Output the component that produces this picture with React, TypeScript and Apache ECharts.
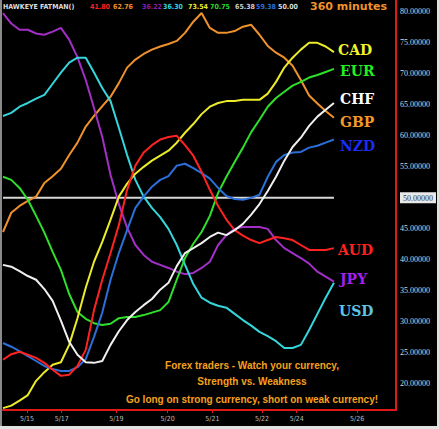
import React, { useEffect, useRef } from "react";
import * as echarts from "echarts";

// Time index (6-hour bars) and date tick labels
const xTickPos = [2.9, 7.1, 13.7, 19.9, 25.3, 31.3, 35.5, 42.8];
const xTickLabels = ["5/15", "5/17", "5/19", "5/20", "5/21", "5/22", "5/24", "5/26"];
const yTickVals = [20, 25, 30, 35, 40, 45, 50, 55, 60, 65, 70, 75, 80];
const levelValue = 50;

const AUD = [23.9, 24.8, 25.2, 24.7, 24.2, 23.4, 22.3, 21.3, 21.5, 22.9, 25.5, 31.9, 36.8, 41.1, 45.6, 51.3, 55.2, 57.3, 58.5, 59.4, 59.8, 60.0, 58.5, 56.8, 54.2, 51.3, 48.7, 46.5, 44.8, 43.9, 43.2, 42.7, 43.2, 43.7, 43.5, 43.2, 42.4, 41.6, 41.6, 41.6, 41.9];
const CAD = [16.1, 16.5, 17.3, 18.2, 20.5, 21.9, 23.1, 23.5, 26.3, 30.6, 35.5, 39.7, 42.9, 46.5, 50.2, 52.3, 53.9, 55.0, 56.0, 56.8, 57.6, 58.9, 60.5, 61.9, 63.5, 64.7, 65.3, 65.6, 65.6, 65.8, 65.8, 65.8, 66.8, 68.7, 71.0, 72.6, 73.9, 75.0, 75.0, 74.4, 73.5];
const CHF = [39.2, 38.9, 38.2, 37.4, 36.8, 35.3, 33.4, 30.2, 26.8, 24.7, 23.5, 23.4, 23.7, 26.3, 28.5, 30.3, 31.6, 32.7, 33.7, 35.2, 36.3, 39.0, 41.1, 41.9, 42.7, 43.7, 44.4, 44.0, 44.8, 45.8, 47.3, 49.0, 51.1, 53.4, 56.0, 58.2, 59.7, 61.6, 63.1, 64.2, 65.3];
const EUR = [53.4, 52.9, 51.6, 49.7, 47.1, 44.4, 41.3, 38.4, 34.5, 31.6, 30.5, 29.8, 29.5, 29.7, 30.6, 30.8, 30.8, 31.1, 31.5, 31.9, 33.2, 36.8, 40.3, 42.6, 44.5, 47.1, 50.8, 53.4, 55.8, 58.1, 60.6, 62.6, 64.7, 66.1, 67.1, 68.1, 68.7, 69.4, 69.8, 70.3, 70.8];
const GBP = [44.5, 47.6, 48.7, 49.5, 50.2, 52.4, 53.5, 54.7, 56.9, 58.9, 61.5, 63.2, 64.8, 66.3, 68.5, 71.0, 72.3, 73.2, 73.9, 74.4, 74.8, 75.3, 76.6, 78.4, 79.8, 77.4, 76.6, 76.6, 76.9, 77.6, 77.9, 76.3, 74.5, 73.4, 72.6, 71.3, 69.0, 66.5, 65.2, 64.0, 62.9];
const JPY = [79.8, 78.1, 77.1, 77.1, 76.5, 76.3, 76.8, 77.4, 75.5, 72.7, 69.0, 64.5, 59.8, 53.7, 49.0, 45.2, 42.4, 40.8, 39.7, 39.2, 38.7, 38.1, 37.7, 37.9, 38.7, 39.7, 42.4, 44.0, 45.0, 45.3, 45.3, 45.3, 45.0, 43.2, 41.9, 41.1, 40.3, 39.4, 38.1, 37.3, 36.5];
const NZD = [26.6, 26.0, 25.3, 24.5, 23.7, 22.9, 22.4, 22.1, 22.1, 22.7, 24.0, 27.6, 31.5, 36.8, 41.1, 44.8, 48.4, 50.2, 51.8, 52.9, 53.5, 55.2, 55.5, 54.8, 54.0, 53.1, 51.6, 50.3, 49.8, 49.7, 50.0, 50.5, 53.4, 55.8, 56.9, 57.3, 57.4, 58.1, 58.4, 58.9, 59.4];
const USD = [63.2, 63.7, 64.7, 65.3, 66.0, 66.6, 68.4, 70.2, 71.8, 72.6, 72.6, 70.2, 67.7, 65.6, 61.3, 56.9, 52.9, 50.2, 48.4, 46.9, 45.0, 42.4, 39.2, 36.1, 33.9, 33.1, 32.6, 32.3, 31.3, 30.3, 29.4, 28.4, 27.7, 26.9, 25.8, 25.8, 26.3, 28.7, 31.3, 33.9, 36.3];

const headerTitle = "HAWKEYE FATMAN()";
const headerValues = ["41.80", "62.76", "36.22", "36.30", "73.54", "70.75", "65.38", "59.38", "50.00"];
const headerPeriod = "360 minutes";
const messageLines = [
  "Forex traders - Watch your currency,",
  "Strength vs. Weakness",
  "Go long on strong currency, short on weak currency!",
];

const seriesDefs = [
  { name: "GBP", data: GBP, color: "#f0922c" },
  { name: "JPY", data: JPY, color: "#a22fc6" },
  { name: "USD", data: USD, color: "#34d6dc" },
  { name: "EUR", data: EUR, color: "#2fe02a" },
  { name: "CAD", data: CAD, color: "#ecec2a" },
  { name: "NZD", data: NZD, color: "#2b6fd8" },
  { name: "AUD", data: AUD, color: "#ff2222" },
  { name: "CHF", data: CHF, color: "#f0f0f0" },
];

const labelDefs = [
  { text: "CAD", color: "#f4f42a", x: 338, y: 50 },
  { text: "EUR", color: "#22ee22", x: 340, y: 71 },
  { text: "CHF", color: "#ffffff", x: 340, y: 99 },
  { text: "GBP", color: "#f39a26", x: 340, y: 122 },
  { text: "NZD", color: "#1b2cf5", x: 340, y: 146 },
  { text: "AUD", color: "#ff2020", x: 338, y: 250 },
  { text: "JPY", color: "#a020f0", x: 340, y: 279 },
  { text: "USD", color: "#5fc4e4", x: 339, y: 311 },
];

const headerColors = ["#ff2020", "#f0922c", "#8a1fb0", "#34d6dc", "#ecec2a", "#22dd22", "#cccccc", "#2b6fd8", "#dddddd"];
const headerX = [90, 113, 142, 163, 188, 210, 235, 256, 278];

export default function App() {
  const ref = useRef<HTMLDivElement>(null);
  useEffect(() => {
    const chart = echarts.init(ref.current!, null, { renderer: "svg" });
    const lastIdx = AUD.length - 1;
    const series: any[] = seriesDefs.map((s) => ({
      name: s.name,
      type: "line",
      showSymbol: false,
      data: s.data.map((v, i) => [i, v]),
      lineStyle: { color: s.color, width: 2 },
      itemStyle: { color: s.color },
      z: 3,
    }));
    series.unshift({
      name: "level",
      type: "line",
      showSymbol: false,
      data: [[0, levelValue], [lastIdx, levelValue]],
      lineStyle: { color: "#d8d8d8", width: 2 },
      z: 2,
    });

    const graphics: any[] = [];
    // frame edges
    graphics.push({ type: "rect", shape: { x: 0, y: 0, width: 2, height: 429 }, style: { fill: "#8a8a8a" }, silent: true });
    graphics.push({ type: "rect", shape: { x: 0, y: 426, width: 439, height: 3 }, style: { fill: "#e2e2e2" }, silent: true });
    graphics.push({ type: "rect", shape: { x: 437, y: 0, width: 2, height: 429 }, style: { fill: "#e2e2e2" }, silent: true });
    graphics.push({
      type: "text",
      x: 3,
      y: 3,
      style: { text: headerTitle, fill: "#dddddd", font: "bold 7px 'DejaVu Sans Condensed', sans-serif" },
    });
    headerValues.forEach((v, i) => {
      graphics.push({
        type: "text",
        x: headerX[i],
        y: 3,
        style: { text: v, fill: headerColors[i], font: "bold 7px 'DejaVu Sans Condensed', sans-serif" },
      });
    });
    graphics.push({
      type: "text",
      x: 310,
      y: 1,
      style: { text: headerPeriod, fill: "#f0922c", font: "bold 11px 'DejaVu Sans', sans-serif" },
    });
    labelDefs.forEach((l) => {
      graphics.push({
        type: "text",
        x: l.x,
        y: l.y,
        style: {
          text: l.text,
          fill: l.color,
          font: "bold 14px 'DejaVu Serif', serif",
          verticalAlign: "middle",
        },
      });
    });
    const msgY = [365, 381, 399];
    messageLines.forEach((t, i) => {
      graphics.push({
        type: "text",
        x: 252,
        y: msgY[i],
        style: {
          text: t,
          fill: "#f5a11e",
          font: "bold 10px 'Liberation Sans', sans-serif",
          align: "center",
          verticalAlign: "middle",
        },
      });
    });

    chart.setOption({
      animation: false,
      backgroundColor: "#000000",
      grid: { left: 3, right: 42, top: 0, bottom: 19 },
      xAxis: {
        type: "value",
        min: 0,
        max: 47.5,
        axisLine: { show: true, onZero: false, lineStyle: { color: "#e01818", width: 2 } },
        axisTick: { show: true, customValues: xTickPos, length: 3, lineStyle: { color: "#e01818", width: 1 } },
        axisLabel: {
          customValues: xTickPos,
          formatter: (v: number) => {
            const k = xTickPos.findIndex((p) => Math.abs(p - v) < 0.01);
            return k >= 0 ? xTickLabels[k] : "";
          },
          color: "#bbbbbb",
          fontSize: 7,
          fontFamily: "'DejaVu Sans Condensed', sans-serif",
          margin: 5,
        },
        splitLine: { show: false },
      },
      yAxis: {
        type: "value",
        position: "right",
        min: 15.8,
        max: 81.9,
        axisLine: { show: true, onZero: false, lineStyle: { color: "#e01818", width: 2 } },
        axisTick: { show: false },
        axisLabel: {
          customValues: yTickVals,
          formatter: (v: number) => {
            if (Math.abs(v % 5) > 0.01) return "";
            return v === levelValue ? "{box|" + v.toFixed(5) + "}" : v.toFixed(5);
          },
          color: "#d8d8d8",
          fontSize: 8,
          fontFamily: "'Liberation Serif', serif",
          margin: 4,
          rich: {
            box: {
              backgroundColor: "#e8e8e8",
              color: "#333333",
              fontSize: 8,
              fontFamily: "'Liberation Serif', serif",
              padding: [2, 3, 1, 3],
            },
          },
        },
        splitLine: { show: false },
      },
      series,
      graphic: graphics,
    });
    return () => chart.dispose();
  }, []);
  return (
    <div style={{ position: "fixed", left: 0, top: 0, width: 439, height: 429 }}>
      <div ref={ref} style={{ position: "absolute", left: 0, top: 0, width: 439, height: 429 }} />
    </div>
  );
}
